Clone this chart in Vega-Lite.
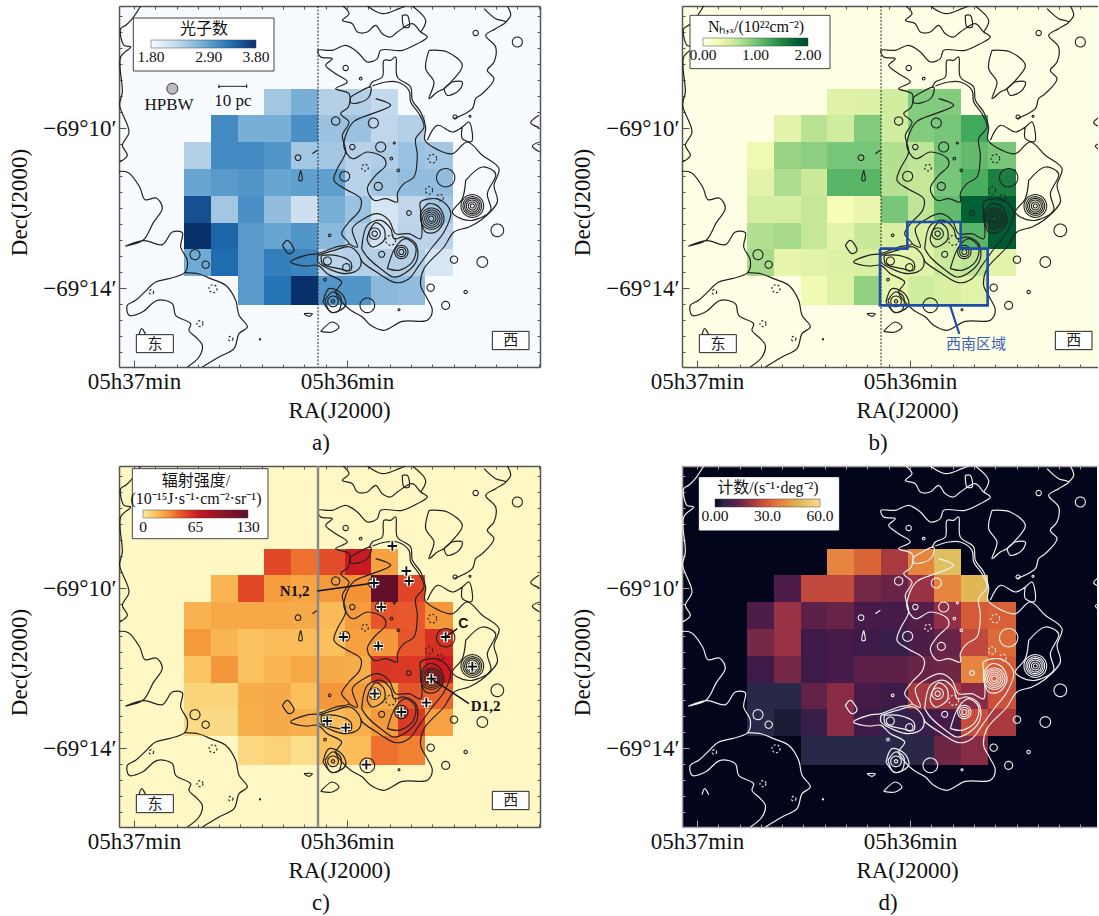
{"$schema":"https://vega.github.io/schema/vega-lite/v6.json","background":"white","autosize":{"type":"pad"},"padding":{"left":8,"top":4,"right":0,"bottom":0},
"config":{"view":{"stroke":null},"font":"Liberation Serif, Noto Sans CJK SC","axis":{"grid":false,"domainColor":"#555","tickColor":"#555","domainWidth":1.5,"tickWidth":1,"labelFont":"Liberation Serif","labelFontSize":23,"labelColor":"#111","labelOverlap":false,"labelBound":false,"labelFlush":false,"labelPadding":10,"titleFont":"Liberation Serif","titleFontSize":23,"titleFontWeight":"normal","titleColor":"#111"},"legend":{"orient":"none","direction":"horizontal","gradientLength":105,"gradientThickness":8,"gradientStrokeColor":"#444","gradientStrokeWidth":0.5,"labelFont":"Liberation Serif","labelFontSize":15.5,"labelColor":"#111","labelOverlap":false,"titleFont":"Liberation Serif, Noto Sans CJK SC","titleFontSize":16,"titleFontWeight":"normal","titleColor":"#111","titleAnchor":"middle","titlePadding":3,"padding":0,"zindex":1}},
"datasets":{
"cells":[
{"x":435,"x2":516,"y":271,"y2":349,"a":2.5,"b":0.45,"c":52,"d":38},{"x":516,"x2":597,"y":271,"y2":349,"a":2.75,"b":0.48,"c":40,"d":32},{"x":597,"x2":678,"y":271,"y2":349,"a":2.4,"b":0.55,"c":50,"d":22},{"x":678,"x2":756,"y":271,"y2":349,"a":2.4,"b":0.95,"c":68,"d":38},{"x":756,"x2":837,"y":271,"y2":349,"a":2.3,"b":0.95,"c":28,"d":50},
{"x":276,"x2":357,"y":349,"y2":430,"a":3.1,"b":0.42,"c":20,"d":10},{"x":357,"x2":435,"y":349,"y2":430,"a":2.75,"b":0.68,"c":52,"d":26},{"x":435,"x2":516,"y":349,"y2":430,"a":2.75,"b":0.55,"c":29,"d":26},{"x":516,"x2":597,"y":349,"y2":430,"a":3.05,"b":0.95,"c":26,"d":16},{"x":597,"x2":678,"y":349,"y2":430,"a":2.55,"b":0.55,"c":30,"d":14},{"x":678,"x2":756,"y":349,"y2":430,"a":2.55,"b":0.95,"c":32,"d":20},{"x":756,"x2":837,"y":349,"y2":430,"a":2.32,"b":1.0,"c":125,"d":38},{"x":837,"x2":918,"y":349,"y2":430,"a":2.4,"b":1.25,"c":53,"d":48},
{"x":195,"x2":276,"y":430,"y2":511,"a":2.4,"b":0.32,"c":21,"d":10},{"x":276,"x2":357,"y":430,"y2":511,"a":3.1,"b":0.85,"c":25,"d":20},{"x":357,"x2":435,"y":430,"y2":511,"a":3.1,"b":0.9,"c":25,"d":12},{"x":435,"x2":516,"y":430,"y2":511,"a":3.0,"b":1.0,"c":25,"d":14},{"x":516,"x2":597,"y":430,"y2":511,"a":2.5,"b":1.0,"c":24,"d":9},{"x":597,"x2":678,"y":430,"y2":511,"a":2.5,"b":0.72,"c":18,"d":9},{"x":678,"x2":756,"y":430,"y2":511,"a":2.38,"b":0.65,"c":29,"d":11},{"x":756,"x2":837,"y":430,"y2":511,"a":2.42,"b":1.02,"c":47,"d":19},{"x":837,"x2":918,"y":430,"y2":511,"a":2.55,"b":1.1,"c":46,"d":30},{"x":918,"x2":1002,"y":430,"y2":511,"a":2.5,"b":1.0,"c":31,"d":31},
{"x":195,"x2":276,"y":511,"y2":592,"a":2.85,"b":0.42,"c":30,"d":16},{"x":276,"x2":357,"y":511,"y2":592,"a":2.95,"b":0.75,"c":20,"d":20},{"x":357,"x2":435,"y":511,"y2":592,"a":3.0,"b":0.58,"c":15,"d":8},{"x":435,"x2":516,"y":511,"y2":592,"a":2.85,"b":1.15,"c":17,"d":9},{"x":516,"x2":597,"y":511,"y2":592,"a":2.9,"b":1.15,"c":17,"d":8},{"x":597,"x2":678,"y":511,"y2":592,"a":2.9,"b":0.7,"c":16,"d":7},{"x":678,"x2":756,"y":511,"y2":592,"a":2.37,"b":0.62,"c":28,"d":10},{"x":756,"x2":837,"y":511,"y2":592,"a":2.5,"b":1.0,"c":31,"d":14},{"x":837,"x2":918,"y":511,"y2":592,"a":2.6,"b":1.22,"c":47,"d":26},{"x":918,"x2":1002,"y":511,"y2":592,"a":2.6,"b":1.55,"c":60,"d":33},
{"x":195,"x2":276,"y":592,"y2":673,"a":3.55,"b":0.52,"c":14,"d":8},{"x":276,"x2":357,"y":592,"y2":673,"a":2.5,"b":0.52,"c":31,"d":16},{"x":357,"x2":435,"y":592,"y2":673,"a":3.05,"b":0.62,"c":15,"d":8},{"x":435,"x2":516,"y":592,"y2":673,"a":2.6,"b":0.25,"c":20,"d":9},{"x":516,"x2":597,"y":592,"y2":673,"a":2.2,"b":0.35,"c":25,"d":12},{"x":597,"x2":678,"y":592,"y2":673,"a":2.75,"b":1.0,"c":24,"d":12},{"x":678,"x2":756,"y":592,"y2":673,"a":2.55,"b":0.65,"c":23,"d":14},{"x":756,"x2":837,"y":592,"y2":673,"a":2.12,"b":1.1,"c":58,"d":15},{"x":837,"x2":918,"y":592,"y2":673,"a":2.32,"b":1.8,"c":57,"d":38},{"x":918,"x2":1002,"y":592,"y2":673,"a":2.5,"b":1.85,"c":65,"d":30},
{"x":195,"x2":276,"y":673,"y2":751,"a":3.8,"b":0.72,"c":8,"d":4},{"x":276,"x2":357,"y":673,"y2":751,"a":3.4,"b":0.78,"c":8,"d":4},{"x":357,"x2":435,"y":673,"y2":751,"a":2.95,"b":0.62,"c":23,"d":13},{"x":435,"x2":516,"y":673,"y2":751,"a":2.85,"b":0.42,"c":24,"d":18},{"x":516,"x2":597,"y":673,"y2":751,"a":3.0,"b":0.6,"c":16,"d":9},{"x":597,"x2":678,"y":673,"y2":751,"a":2.65,"b":0.5,"c":31,"d":8},{"x":678,"x2":756,"y":673,"y2":751,"a":2.4,"b":0.5,"c":30,"d":22},{"x":756,"x2":837,"y":673,"y2":751,"a":2.15,"b":0.62,"c":23,"d":22},{"x":837,"x2":918,"y":673,"y2":751,"a":2.35,"b":1.15,"c":47,"d":18},{"x":918,"x2":1002,"y":673,"y2":751,"a":2.35,"b":1.85,"c":43,"d":28},
{"x":195,"x2":276,"y":751,"y2":832,"a":2.8,"b":0.78,"c":6,"d":4},{"x":276,"x2":357,"y":751,"y2":832,"a":3.35,"b":0.38,"c":6,"d":2.5},{"x":357,"x2":435,"y":751,"y2":832,"a":2.95,"b":0.44,"c":22,"d":7},{"x":435,"x2":516,"y":751,"y2":832,"a":3.2,"b":0.48,"c":24,"d":18},{"x":516,"x2":597,"y":751,"y2":832,"a":3.15,"b":0.5,"c":22,"d":8},{"x":597,"x2":678,"y":751,"y2":832,"a":2.35,"b":0.4,"c":17,"d":6},{"x":678,"x2":756,"y":751,"y2":832,"a":2.4,"b":0.44,"c":22,"d":7},{"x":756,"x2":837,"y":751,"y2":832,"a":2.4,"b":0.58,"c":30,"d":9},{"x":837,"x2":918,"y":751,"y2":832,"a":2.4,"b":0.65,"c":57,"d":27},{"x":918,"x2":1002,"y":751,"y2":832,"a":2.1,"b":0.42,"c":27,"d":22},
{"x":357,"x2":435,"y":832,"y2":919,"a":2.95,"b":0.3,"c":7,"d":4},{"x":435,"x2":516,"y":832,"y2":919,"a":3.28,"b":0.46,"c":9,"d":4},{"x":516,"x2":597,"y":832,"y2":919,"a":3.8,"b":0.88,"c":5,"d":4},{"x":597,"x2":678,"y":832,"y2":919,"a":3.0,"b":0.4,"c":15,"d":4},{"x":678,"x2":756,"y":832,"y2":919,"a":3.0,"b":0.55,"c":17,"d":4.5},{"x":756,"x2":837,"y":832,"y2":919,"a":2.65,"b":0.5,"c":40,"d":15},{"x":837,"x2":918,"y":832,"y2":919,"a":2.6,"b":0.44,"c":36,"d":18}],
"lines":[
{"c":1,"x":0,"y":518},{"c":1,"x":28,"y":522},{"c":1,"x":62,"y":565},{"c":1,"x":78,"y":603},{"c":1,"x":112,"y":598},{"c":1,"x":130,"y":628},{"c":1,"x":103,"y":672},{"c":1,"x":72,"y":725},{"c":1,"x":20,"y":742},{"c":1,"x":75,"y":726},{"c":1,"x":130,"y":738},{"c":1,"x":160,"y":700},{"c":1,"x":190,"y":702},{"c":1,"x":185,"y":745},{"c":1,"x":205,"y":785},{"c":1,"x":197,"y":822},{"c":1,"x":150,"y":840},{"c":1,"x":110,"y":850},{"c":1,"x":72,"y":885},{"c":1,"x":50,"y":905},{"c":1,"x":25,"y":920},{"c":1,"x":30,"y":950},{"c":1,"x":70,"y":940},{"c":1,"x":115,"y":905},{"c":1,"x":160,"y":915},{"c":1,"x":170,"y":950},{"c":1,"x":215,"y":975},{"c":1,"x":210,"y":995},{"c":1,"x":235,"y":1020},{"c":1,"x":250,"y":1040},{"c":1,"x":240,"y":1075},{"c":1,"x":205,"y":1105},
{"c":2,"x":197,"y":822},{"c":2,"x":240,"y":826},{"c":2,"x":275,"y":840},{"c":2,"x":320,"y":860},{"c":2,"x":350,"y":905},{"c":2,"x":360,"y":950},{"c":2,"x":385,"y":985},{"c":2,"x":360,"y":1005},{"c":2,"x":345,"y":1050},{"c":2,"x":300,"y":1075},{"c":2,"x":250,"y":1105},
{"c":3,"x":65,"y":22},{"c":3,"x":40,"y":60},{"c":3,"x":20,"y":80},{"c":3,"x":5,"y":90},{"c":3,"x":15,"y":140},{"c":3,"x":35,"y":145},{"c":3,"x":5,"y":175},{"c":3,"x":10,"y":280},{"c":3,"x":2,"y":320},{"c":3,"x":30,"y":400},{"c":3,"x":10,"y":440},{"c":3,"x":25,"y":470},{"c":3,"x":2,"y":490},
{"c":4,"x":672,"y":22},{"c":4,"x":690,"y":45},{"c":4,"x":670,"y":65},{"c":4,"x":700,"y":75},{"c":4,"x":715,"y":100},{"c":4,"x":745,"y":100},{"c":4,"x":770,"y":80},{"c":4,"x":790,"y":105},{"c":4,"x":815,"y":115},{"c":4,"x":835,"y":100},{"c":4,"x":880,"y":75},{"c":4,"x":905,"y":100},{"c":4,"x":925,"y":115},{"c":4,"x":895,"y":135},{"c":4,"x":850,"y":155},{"c":4,"x":785,"y":155},{"c":4,"x":775,"y":180},{"c":4,"x":745,"y":190},{"c":4,"x":715,"y":160},{"c":4,"x":680,"y":140},{"c":4,"x":640,"y":155},{"c":4,"x":597,"y":155},{"c":4,"x":605,"y":175},{"c":4,"x":640,"y":180},{"c":4,"x":620,"y":200},{"c":4,"x":650,"y":225},{"c":4,"x":685,"y":250},{"c":4,"x":650,"y":270},{"c":4,"x":690,"y":285},{"c":4,"x":688,"y":325},{"c":4,"x":665,"y":345},{"c":4,"x":690,"y":370},{"c":4,"x":670,"y":410},{"c":4,"x":680,"y":460},{"c":4,"x":655,"y":510},{"c":4,"x":645,"y":545},{"c":4,"x":680,"y":572},{"c":4,"x":725,"y":600},{"c":4,"x":722,"y":635},{"c":4,"x":690,"y":670},{"c":4,"x":668,"y":705},{"c":4,"x":690,"y":735},{"c":4,"x":650,"y":745},{"c":4,"x":597,"y":765},{"c":4,"x":560,"y":770},{"c":4,"x":515,"y":790},{"c":4,"x":560,"y":802},{"c":4,"x":597,"y":800},{"c":4,"x":625,"y":825},{"c":4,"x":668,"y":850},{"c":4,"x":650,"y":880},{"c":4,"x":665,"y":905},{"c":4,"x":695,"y":935},{"c":4,"x":730,"y":955},{"c":4,"x":755,"y":980},{"c":4,"x":795,"y":995},{"c":4,"x":850,"y":968},{"c":4,"x":925,"y":965},{"c":4,"x":940,"y":935},{"c":4,"x":925,"y":900},{"c":4,"x":905,"y":860},{"c":4,"x":915,"y":810},{"c":4,"x":975,"y":745},{"c":4,"x":1005,"y":700},{"c":4,"x":1050,"y":685},{"c":4,"x":1085,"y":665},{"c":4,"x":1135,"y":610},{"c":4,"x":1125,"y":560},{"c":4,"x":1140,"y":510},{"c":4,"x":1090,"y":470},{"c":4,"x":1045,"y":430},{"c":4,"x":1000,"y":465},{"c":4,"x":960,"y":455},{"c":4,"x":918,"y":425},{"c":4,"x":920,"y":385},{"c":4,"x":905,"y":340},{"c":4,"x":880,"y":305},{"c":4,"x":875,"y":265},{"c":4,"x":835,"y":235},{"c":4,"x":830,"y":175},{"c":4,"x":815,"y":185},{"c":4,"x":795,"y":185},{"c":4,"x":790,"y":235},{"c":4,"x":760,"y":250},{"c":4,"x":750,"y":268},
{"c":5,"x":745,"y":22},{"c":5,"x":790,"y":45},{"c":5,"x":840,"y":30},{"c":5,"x":860,"y":22},
{"c":6,"x":850,"y":50},{"c":6,"x":865,"y":50},{"c":6,"x":870,"y":85},{"c":6,"x":855,"y":85},{"c":6,"x":850,"y":50},
{"c":7,"x":880,"y":22},{"c":7,"x":920,"y":65},{"c":7,"x":905,"y":100},
{"c":8,"x":760,"y":262},{"c":8,"x":800,"y":250},{"c":8,"x":835,"y":250},{"c":8,"x":870,"y":275},{"c":8,"x":875,"y":310},{"c":8,"x":900,"y":345},{"c":8,"x":915,"y":385},{"c":8,"x":890,"y":420},{"c":8,"x":895,"y":470},{"c":8,"x":885,"y":535},{"c":8,"x":855,"y":555},{"c":8,"x":835,"y":585},{"c":8,"x":835,"y":610},{"c":8,"x":800,"y":600},{"c":8,"x":765,"y":605},{"c":8,"x":745,"y":570},{"c":8,"x":770,"y":530},{"c":8,"x":800,"y":500},{"c":8,"x":795,"y":478},{"c":8,"x":745,"y":460},{"c":8,"x":700,"y":480},{"c":8,"x":675,"y":445},{"c":8,"x":682,"y":405},{"c":8,"x":705,"y":368},{"c":8,"x":760,"y":345},{"c":8,"x":815,"y":320},{"c":8,"x":770,"y":300},
{"c":9,"x":695,"y":295},{"c":9,"x":720,"y":280},{"c":9,"x":755,"y":265},{"c":9,"x":750,"y":295},{"c":9,"x":720,"y":312},{"c":9,"x":695,"y":312},{"c":9,"x":695,"y":295},
{"c":10,"x":930,"y":155},{"c":10,"x":985,"y":160},{"c":10,"x":1030,"y":200},{"c":10,"x":1005,"y":240},{"c":10,"x":975,"y":270},{"c":10,"x":955,"y":280},{"c":10,"x":930,"y":300},{"c":10,"x":945,"y":250},{"c":10,"x":920,"y":210},{"c":10,"x":930,"y":155},
{"c":11,"x":975,"y":270},{"c":11,"x":1000,"y":250},{"c":11,"x":1030,"y":250},{"c":11,"x":1020,"y":275},{"c":11,"x":985,"y":290},{"c":11,"x":975,"y":270},
{"c":12,"x":1095,"y":30},{"c":12,"x":1130,"y":60},{"c":12,"x":1160,"y":70},{"c":12,"x":1130,"y":90},{"c":12,"x":1100,"y":110},{"c":12,"x":1130,"y":145},{"c":12,"x":1125,"y":190},{"c":12,"x":1105,"y":215},{"c":12,"x":1125,"y":240},{"c":12,"x":1090,"y":285},{"c":12,"x":1070,"y":300},{"c":12,"x":1060,"y":330},{"c":12,"x":1005,"y":360},
{"c":13,"x":1165,"y":22},{"c":13,"x":1175,"y":50},{"c":13,"x":1160,"y":70},
{"c":14,"x":1260,"y":350},{"c":14,"x":1235,"y":372},{"c":14,"x":1260,"y":387},
{"c":15,"x":1262,"y":430},{"c":15,"x":1240,"y":442},{"c":15,"x":1262,"y":460},
{"c":16,"x":925,"y":425},{"c":16,"x":955,"y":380},{"c":16,"x":1000,"y":400},{"c":16,"x":1030,"y":385},{"c":16,"x":1050,"y":370},{"c":16,"x":1058,"y":428},{"c":16,"x":1030,"y":420},{"c":16,"x":1030,"y":385},
{"c":17,"x":1040,"y":545},{"c":17,"x":1090,"y":505},{"c":17,"x":1130,"y":525},{"c":17,"x":1105,"y":585},{"c":17,"x":1115,"y":635},{"c":17,"x":1060,"y":665},{"c":17,"x":1015,"y":655},{"c":17,"x":1000,"y":640},{"c":17,"x":1030,"y":600},{"c":17,"x":1040,"y":545},
{"c":18,"x":597,"y":770},{"c":18,"x":645,"y":755},{"c":18,"x":695,"y":745},{"c":18,"x":725,"y":780},{"c":18,"x":720,"y":810},{"c":18,"x":680,"y":825},{"c":18,"x":640,"y":815},{"c":18,"x":597,"y":790},{"c":18,"x":597,"y":770},
{"c":19,"x":607,"y":770},{"c":19,"x":650,"y":770},{"c":19,"x":695,"y":790},{"c":19,"x":695,"y":815},{"c":19,"x":660,"y":810},{"c":19,"x":610,"y":795},{"c":19,"x":607,"y":770},
{"c":20,"x":690,"y":735},{"c":20,"x":715,"y":745},{"c":20,"x":700,"y":690},{"c":20,"x":735,"y":660},{"c":20,"x":775,"y":645},{"c":20,"x":810,"y":665},{"c":20,"x":830,"y":705},{"c":20,"x":870,"y":705},{"c":20,"x":905,"y":720},{"c":20,"x":905,"y":640},{"c":20,"x":905,"y":610},{"c":20,"x":960,"y":602},{"c":20,"x":995,"y":640},{"c":20,"x":975,"y":700},{"c":20,"x":940,"y":745},{"c":20,"x":900,"y":800},{"c":20,"x":870,"y":840},{"c":20,"x":830,"y":852},{"c":20,"x":780,"y":825},{"c":20,"x":730,"y":790},{"c":20,"x":725,"y":780},
{"c":21,"x":728,"y":750},{"c":21,"x":745,"y":680},{"c":21,"x":785,"y":665},{"c":21,"x":815,"y":690},{"c":21,"x":825,"y":720},{"c":21,"x":855,"y":715},{"c":21,"x":890,"y":735},{"c":21,"x":895,"y":780},{"c":21,"x":870,"y":815},{"c":21,"x":825,"y":835},{"c":21,"x":785,"y":810},{"c":21,"x":745,"y":775},{"c":21,"x":728,"y":750},
{"c":22,"x":805,"y":810},{"c":22,"x":830,"y":745},{"c":22,"x":860,"y":720},{"c":22,"x":890,"y":745},{"c":22,"x":880,"y":790},{"c":22,"x":840,"y":815},{"c":22,"x":805,"y":810},
{"c":23,"x":750,"y":700},{"c":23,"x":770,"y":672},{"c":23,"x":795,"y":690},{"c":23,"x":795,"y":725},{"c":23,"x":760,"y":745},{"c":23,"x":745,"y":725},{"c":23,"x":750,"y":700},
{"c":24,"x":905,"y":640},{"c":24,"x":930,"y":615},{"c":24,"x":960,"y":625},{"c":24,"x":975,"y":665},{"c":24,"x":950,"y":700},{"c":24,"x":920,"y":700},{"c":24,"x":905,"y":660},{"c":24,"x":905,"y":640},
{"c":25,"x":618,"y":905},{"c":25,"x":640,"y":880},{"c":25,"x":665,"y":895},{"c":25,"x":660,"y":935},{"c":25,"x":635,"y":940},{"c":25,"x":618,"y":905},
{"c":26,"x":605,"y":998},{"c":26,"x":640,"y":970},{"c":26,"x":660,"y":985},{"c":26,"x":640,"y":1000},{"c":26,"x":605,"y":998},
{"c":27,"x":555,"y":945},{"c":27,"x":580,"y":945},{"c":27,"x":570,"y":953},{"c":27,"x":555,"y":945},
{"c":28,"x":490,"y":740},{"c":28,"x":505,"y":725},{"c":28,"x":525,"y":755},{"c":28,"x":510,"y":765},{"c":28,"x":490,"y":740},
{"c":29,"x":545,"y":515},{"c":29,"x":549,"y":545},{"c":29,"x":540,"y":545},{"c":29,"x":545,"y":515},
{"c":30,"x":580,"y":465},{"c":30,"x":595,"y":455},
{"c":31,"x":60,"y":1008},{"c":31,"x":68,"y":990},{"c":31,"x":80,"y":1008},
{"c":32,"x":612,"y":910},{"c":32,"x":630,"y":870},{"c":32,"x":668,"y":885},{"c":32,"x":680,"y":920},{"c":32,"x":640,"y":942},{"c":32,"x":612,"y":910}],
"rings":[
{"x":1060,"y":622,"d":12,"k":"s"},{"x":1060,"y":622,"d":24,"k":"s"},{"x":1060,"y":622,"d":36,"k":"s"},{"x":1060,"y":622,"d":46,"k":"s"},{"x":1060,"y":622,"d":56,"k":"s"},{"x":1060,"y":622,"d":68,"k":"s"},
{"x":937,"y":660,"d":16,"k":"s"},{"x":937,"y":660,"d":28,"k":"s"},{"x":937,"y":660,"d":40,"k":"s"},{"x":937,"y":660,"d":52,"k":"s"},{"x":937,"y":660,"d":64,"k":"s"},
{"x":847,"y":760,"d":15,"k":"s"},{"x":847,"y":760,"d":28,"k":"s"},{"x":847,"y":760,"d":40,"k":"s"},
{"x":767,"y":705,"d":16,"k":"s"},{"x":767,"y":705,"d":34,"k":"s"},{"x":642,"y":908,"d":10,"k":"s"},{"x":642,"y":908,"d":32,"k":"s"},{"x":625,"y":787,"d":24,"k":"s"},{"x":682,"y":806,"d":22,"k":"s"},
{"x":537,"y":477,"d":17,"k":"s"},{"x":650,"y":367,"d":25,"k":"s"},{"x":763,"y":373,"d":30,"k":"s"},{"x":700,"y":445,"d":16,"k":"s"},{"x":785,"y":445,"d":30,"k":"s"},{"x":677,"y":533,"d":30,"k":"s"},{"x":778,"y":563,"d":24,"k":"s"},{"x":980,"y":537,"d":55,"k":"s"},{"x":1005,"y":783,"d":22,"k":"s"},{"x":1090,"y":790,"d":32,"k":"s"},{"x":1135,"y":695,"d":38,"k":"s"},{"x":935,"y":867,"d":22,"k":"s"},{"x":980,"y":920,"d":24,"k":"s"},{"x":1040,"y":880,"d":10,"k":"s"},{"x":1070,"y":103,"d":16,"k":"s"},{"x":1195,"y":130,"d":30,"k":"s"},{"x":745,"y":920,"d":44,"k":"s"},{"x":228,"y":768,"d":30,"k":"s"},{"x":260,"y":798,"d":22,"k":"s"},{"x":870,"y":643,"d":14,"k":"s"},{"x":788,"y":767,"d":18,"k":"s"},{"x":817,"y":480,"d":8,"k":"s"},{"x":632,"y":710,"d":8,"k":"s"},{"x":838,"y":515,"d":8,"k":"s"},{"x":618,"y":843,"d":8,"k":"s"},{"x":840,"y":933,"d":6,"k":"s"},{"x":423,"y":1022,"d":4,"k":"s"},{"x":826,"y":433,"d":6,"k":"s"},{"x":725,"y":240,"d":8,"k":"s"},{"x":1053,"y":353,"d":6,"k":"s"},{"x":1008,"y":355,"d":12,"k":"s"},{"x":680,"y":208,"d":16,"k":"s"},
{"x":940,"y":480,"d":26,"k":"d"},{"x":738,"y":507,"d":20,"k":"d"},{"x":930,"y":575,"d":22,"k":"d"},{"x":963,"y":597,"d":20,"k":"d"},{"x":815,"y":725,"d":30,"k":"d"},{"x":282,"y":870,"d":24,"k":"d"},{"x":97,"y":880,"d":14,"k":"d"},{"x":243,"y":975,"d":18,"k":"d"},{"x":335,"y":1020,"d":14,"k":"d"}],
"centre":[{"x":597,"y":22},{"x":597,"y":1105}],
"dirs":[{"x":52,"x2":163,"y":1008,"y2":1062,"xc":108,"yc":1035,"t":"东"},{"x":1120,"x2":1230,"y":998,"y2":1053,"xc":1175,"yc":1025,"t":"西"}],
"stars":[{"x":820,"y":262},{"x":862,"y":337},{"x":870,"y":367},{"x":765,"y":373},{"x":787,"y":445},{"x":673,"y":535},{"x":778,"y":562},{"x":980,"y":535},{"x":1060,"y":624},{"x":937,"y":660},{"x":767,"y":705},{"x":922,"y":732},{"x":847,"y":760},{"x":625,"y":787},{"x":680,"y":807},{"x":742,"y":918}]
},
"concat":[
{"width":421,"height":361,"view":{"fill":"#f7fbff","stroke":null},
"encoding":{"x":{"field":"x","type":"quantitative","scale":{"domain":[0,1263],"nice":false,"zero":false},"axis":null},"y":{"field":"y","type":"quantitative","scale":{"domain":[1105,22],"nice":false,"zero":false},"axis":null}},
"layer":[
{"data":{"name":"cells"},"mark":"rect","encoding":{"x":{"field":"x","type":"quantitative","scale":{"domain":[0,1263],"nice":false,"zero":false},"axis":{"orient":"bottom","values":[45,109,173,237,301,364,428,492,556,620,684,748,812,876,940,1004,1068,1131,1195,1259],"labelExpr":"datum.value==45?'05h37min':datum.value==684?'05h36min':''","tickSize":{"condition":{"test":"datum.value==45||datum.value==684","value":-7},"value":-3},"title":"RA(J2000)","titleX":220,"titleY":50,"titleBaseline":"alphabetic"}},"x2":{"field":"x2"},"y":{"field":"y","type":"quantitative","scale":{"domain":[1105,22],"nice":false,"zero":false},"axis":{"orient":"left","values":[52,100,148,196,244,292,340,388,436,484,532,580,628,676,724,772,820,868,916,964,1012,1060],"labelExpr":"datum.value==388?'−69°10′':datum.value==868?'−69°14′':''","tickSize":{"condition":{"test":"datum.value==388||datum.value==868","value":-7},"value":-3},"title":"Dec(J2000)","titleX":-88,"titleY":196}},"y2":{"field":"y2"},
"color":{"field":"a","type":"quantitative","scale":{"domain":[1.8,2.3,2.8,3.3,3.8],"range":["#f7fbff","#c3d9ec","#6fabd4","#2273b5","#08306b"]},"legend":{"legendX":32,"legendY":15,"title":"光子数","values":[1.8,2.9,3.8],"format":".2f","encode":{"labels":{"update":{"align":{"value":"center"}}}}}}}},
{"data":{"name":"lines"},"mark":{"type":"line","interpolate":"catmull-rom","stroke":"#222","strokeWidth":1.2,"clip":true},"encoding":{"x":{"field":"x","type":"quantitative","scale":{"domain":[0,1263],"nice":false,"zero":false},"axis":{"orient":"top","values":[45,109,173,237,301,364,428,492,556,620,684,748,812,876,940,1004,1068,1131,1195,1259],"labels":false,"title":null,"tickSize":-3}},"y":{"field":"y","type":"quantitative","scale":{"domain":[1105,22],"nice":false,"zero":false},"axis":{"orient":"right","values":[52,100,148,196,244,292,340,388,436,484,532,580,628,676,724,772,820,868,916,964,1012,1060],"labels":false,"title":null,"tickSize":-3}},"detail":{"field":"c"},"order":{"value":null}}},
{"data":{"name":"rings"},"mark":{"type":"point","filled":false,"stroke":"#222","strokeWidth":1.1,"opacity":1},"encoding":{"size":{"field":"d","type":"quantitative","scale":{"type":"pow","exponent":2,"domain":[0,100],"range":[0,1111]},"legend":null},"strokeDash":{"field":"k","type":"nominal","scale":{"domain":["s","d"],"range":[[1,0],[2,2]]},"legend":null}}},
{"data":{"name":"centre"},"mark":{"type":"line","stroke":"#222","strokeWidth":1,"strokeDash":[2,1.5]},"encoding":{"order":{"value":null}}},
{"data":{"values":[{"x":160,"y":270}]},"mark":{"type":"point","filled":true,"fill":"#bdbdbd","stroke":"#333","strokeWidth":1,"opacity":1,"size":120}},
{"data":{"values":[{"x":300,"y":258},{"x":300,"y":268},{"x":300,"y":263},{"x":383,"y":263},{"x":383,"y":258},{"x":383,"y":268}]},"mark":{"type":"line","stroke":"#222","strokeWidth":1},"encoding":{"order":{"value":null}}},
{"data":{"values":[{"x":150,"y":320,"t":"HPBW"},{"x":342,"y":306,"t":"10 pc"}]},"mark":{"type":"text","font":"Liberation Serif","fontSize":17,"fill":"#111"},"encoding":{"text":{"field":"t"}}},
{"data":{"values":[{"x":606,"y":1333,"t":"a)"}]},"mark":{"type":"text","font":"Liberation Serif","fontSize":23,"fill":"#111"},"encoding":{"text":{"field":"t"}}},
{"data":{"values":[{"x":43,"x2":465,"y":58,"y2":217}]},"mark":{"type":"rect","fill":"white","stroke":"#444","strokeWidth":1},"encoding":{"x2":{"field":"x2"},"y2":{"field":"y2"}}},
{"data":{"name":"dirs"},"mark":{"type":"rect","fill":"white","stroke":"#222","strokeWidth":1},"encoding":{"x2":{"field":"x2"},"y2":{"field":"y2"}}},
{"data":{"name":"dirs"},"mark":{"type":"text","font":"Noto Sans CJK SC","fontSize":15,"fill":"#222"},"encoding":{"x":{"field":"xc","type":"quantitative","axis":null},"y":{"field":"yc","type":"quantitative","axis":null},"text":{"field":"t"}}}
],"resolve":{"axis":{"x":"independent","y":"independent"}}},
{"width":416,"height":361,"view":{"fill":"#ffffe5","stroke":null},
"encoding":{"x":{"field":"x","type":"quantitative","scale":{"domain":[0,1248],"nice":false,"zero":false},"axis":null},"y":{"field":"y","type":"quantitative","scale":{"domain":[1105,22],"nice":false,"zero":false},"axis":null}},
"layer":[
{"data":{"name":"cells"},"mark":"rect","encoding":{"x":{"field":"x","type":"quantitative","scale":{"domain":[0,1248],"nice":false,"zero":false},"axis":{"orient":"bottom","values":[45,109,173,237,301,364,428,492,556,620,684,748,812,876,940,1004,1068,1131,1195],"labelExpr":"datum.value==45?'05h37min':datum.value==684?'05h36min':''","tickSize":{"condition":{"test":"datum.value==45||datum.value==684","value":-7},"value":-3},"title":"RA(J2000)","titleX":225,"titleY":50,"titleBaseline":"alphabetic"}},"x2":{"field":"x2"},"y":{"field":"y","type":"quantitative","scale":{"domain":[1105,22],"nice":false,"zero":false},"axis":{"orient":"left","values":[52,100,148,196,244,292,340,388,436,484,532,580,628,676,724,772,820,868,916,964,1012,1060],"labelExpr":"datum.value==388?'−69°10′':datum.value==868?'−69°14′':''","tickSize":{"condition":{"test":"datum.value==388||datum.value==868","value":-7},"value":-3},"title":"Dec(J2000)","titleX":-88,"titleY":196}},"y2":{"field":"y2"},
"color":{"field":"b","type":"quantitative","scale":{"domain":[0,0.25,0.5,0.75,1,1.25,1.5,1.75,2],"range":["#ffffe5","#f7fcb9","#d9f0a3","#addd8e","#78c679","#41ab5d","#238443","#006837","#004529"]},"legend":{"legendX":21,"legendY":13,"title":"Nₕ,ₓ/(10²²cm⁻²)","values":[0,1,2],"format":".2f","encode":{"labels":{"update":{"align":{"value":"center"}}}}}}}},
{"data":{"name":"lines"},"mark":{"type":"line","interpolate":"catmull-rom","stroke":"#222","strokeWidth":1.2,"clip":true},"encoding":{"x":{"field":"x","type":"quantitative","scale":{"domain":[0,1248],"nice":false,"zero":false},"axis":{"orient":"top","values":[45,109,173,237,301,364,428,492,556,620,684,748,812,876,940,1004,1068,1131,1195],"labels":false,"title":null,"tickSize":-3}},"detail":{"field":"c"},"order":{"value":null}}},
{"data":{"name":"rings"},"mark":{"type":"point","filled":false,"stroke":"#222","strokeWidth":1.1,"opacity":1},"encoding":{"size":{"field":"d","type":"quantitative","scale":{"type":"pow","exponent":2,"domain":[0,100],"range":[0,1111]},"legend":null},"strokeDash":{"field":"k","type":"nominal","scale":{"domain":["s","d"],"range":[[1,0],[2,2]]},"legend":null}}},
{"data":{"name":"centre"},"mark":{"type":"line","stroke":"#222","strokeWidth":1,"strokeDash":[2,1.5]},"encoding":{"order":{"value":null}}},
{"data":{"values":[{"x":594,"y":750},{"x":676,"y":750},{"x":676,"y":670},{"x":836,"y":670},{"x":836,"y":750},{"x":917,"y":750},{"x":917,"y":920},{"x":594,"y":920},{"x":594,"y":750}]},"mark":{"type":"line","stroke":"#1f4ea8","strokeWidth":2.6},"encoding":{"order":{"value":null}}},
{"data":{"values":[{"x":804,"y":920},{"x":832,"y":1006}]},"mark":{"type":"line","stroke":"#1f4ea8","strokeWidth":2.2},"encoding":{"order":{"value":null}}},
{"data":{"values":[{"x":882,"y":1035,"t":"西南区域"}]},"mark":{"type":"text","font":"Noto Sans CJK SC","fontSize":15,"fill":"#3b62b5"},"encoding":{"text":{"field":"t"}}},
{"data":{"values":[{"x":588,"y":1333,"t":"b)"}]},"mark":{"type":"text","font":"Liberation Serif","fontSize":23,"fill":"#111"},"encoding":{"text":{"field":"t"}}},
{"data":{"values":[{"x":24,"x2":444,"y":50,"y2":210}]},"mark":{"type":"rect","fill":"white","stroke":"#444","strokeWidth":1},"encoding":{"x2":{"field":"x2"},"y2":{"field":"y2"}}},
{"data":{"name":"dirs"},"mark":{"type":"rect","fill":"white","stroke":"#222","strokeWidth":1},"encoding":{"x2":{"field":"x2"},"y2":{"field":"y2"}}},
{"data":{"name":"dirs"},"mark":{"type":"text","font":"Noto Sans CJK SC","fontSize":15,"fill":"#222"},"encoding":{"x":{"field":"xc","type":"quantitative","axis":null},"y":{"field":"yc","type":"quantitative","axis":null},"text":{"field":"t"}}}
],"resolve":{"axis":{"x":"independent","y":"independent"}}},
{"width":421,"height":361,"view":{"fill":"#fff8c4","stroke":null},
"encoding":{"x":{"field":"x","type":"quantitative","scale":{"domain":[0,1263],"nice":false,"zero":false},"axis":null},"y":{"field":"y","type":"quantitative","scale":{"domain":[1105,22],"nice":false,"zero":false},"axis":null}},
"layer":[
{"data":{"name":"cells"},"mark":"rect","encoding":{"x":{"field":"x","type":"quantitative","scale":{"domain":[0,1263],"nice":false,"zero":false},"axis":{"orient":"bottom","values":[45,109,173,237,301,364,428,492,556,620,684,748,812,876,940,1004,1068,1131,1195,1259],"labelExpr":"datum.value==45?'05h37min':datum.value==684?'05h36min':''","tickSize":{"condition":{"test":"datum.value==45||datum.value==684","value":-7},"value":-3},"title":"RA(J2000)","titleX":220,"titleY":50,"titleBaseline":"alphabetic"}},"x2":{"field":"x2"},"y":{"field":"y","type":"quantitative","scale":{"domain":[1105,22],"nice":false,"zero":false},"axis":{"orient":"left","values":[52,100,148,196,244,292,340,388,436,484,532,580,628,676,724,772,820,868,916,964,1012,1060],"labelExpr":"datum.value==388?'−69°10′':datum.value==868?'−69°14′':''","tickSize":{"condition":{"test":"datum.value==388||datum.value==868","value":-7},"value":-3},"title":"Dec(J2000)","titleX":-88,"titleY":196}},"y2":{"field":"y2"},
"color":{"field":"c","type":"quantitative","scale":{"domain":[0,15,30,45,65,100,130],"range":["#fde9a0","#fbc25f","#f59a3c","#ea5a2d","#cf1b20","#8b1528","#5c0f28"]},"legend":{"legendX":12,"legendY":7,"title":["辐射强度/","(10⁻¹⁵J·s⁻¹·cm⁻²·sr⁻¹)"],"values":[0,65,130],"format":"d","encode":{"labels":{"update":{"align":{"value":"center"}}}}}}}},
{"data":{"name":"lines"},"mark":{"type":"line","interpolate":"catmull-rom","stroke":"#222","strokeWidth":1.2,"clip":true},"encoding":{"x":{"field":"x","type":"quantitative","scale":{"domain":[0,1263],"nice":false,"zero":false},"axis":{"orient":"top","values":[45,109,173,237,301,364,428,492,556,620,684,748,812,876,940,1004,1068,1131,1195,1259],"labels":false,"title":null,"tickSize":-3}},"y":{"field":"y","type":"quantitative","scale":{"domain":[1105,22],"nice":false,"zero":false},"axis":{"orient":"right","values":[52,100,148,196,244,292,340,388,436,484,532,580,628,676,724,772,820,868,916,964,1012,1060],"labels":false,"title":null,"tickSize":-3}},"detail":{"field":"c"},"order":{"value":null}}},
{"data":{"name":"rings"},"mark":{"type":"point","filled":false,"stroke":"#222","strokeWidth":1.1,"opacity":1},"encoding":{"size":{"field":"d","type":"quantitative","scale":{"type":"pow","exponent":2,"domain":[0,100],"range":[0,1111]},"legend":null},"strokeDash":{"field":"k","type":"nominal","scale":{"domain":["s","d"],"range":[[1,0],[2,2]]},"legend":null}}},
{"data":{"name":"centre"},"mark":{"type":"line","stroke":"#8a8a8a","strokeWidth":2.5},"encoding":{"order":{"value":null}}},
{"data":{"name":"stars"},"mark":{"type":"point","shape":"M-1,0H1M0,-1V1","size":110,"filled":false,"stroke":"white","strokeWidth":4.5,"opacity":1}},
{"data":{"name":"stars"},"mark":{"type":"point","shape":"M-1,0H1M0,-1V1","size":90,"filled":false,"stroke":"#111","strokeWidth":1.8,"opacity":1}},
{"data":{"values":[{"c":"n","x":595,"y":397},{"c":"n","x":765,"y":373},{"c":"k","x":1015,"y":510},{"c":"k","x":980,"y":535},{"c":"p","x":937,"y":660},{"c":"p","x":1050,"y":735}]},"mark":{"type":"line","stroke":"#111","strokeWidth":1.5},"encoding":{"detail":{"field":"c"},"order":{"value":null}}},
{"data":{"values":[{"x":527,"y":396,"t":"N1,2"},{"x":1100,"y":743,"t":"D1,2"}]},"mark":{"type":"text","font":"Liberation Serif","fontWeight":"bold","fontSize":15,"fill":"#111"},"encoding":{"text":{"field":"t"}}},
{"data":{"values":[{"x":1033,"y":495,"t":"C"}]},"mark":{"type":"text","font":"Liberation Sans","fontWeight":"bold","fontSize":14,"fill":"#111"},"encoding":{"text":{"field":"t"}}},
{"data":{"values":[{"x":606,"y":1333,"t":"c)"}]},"mark":{"type":"text","font":"Liberation Serif","fontSize":23,"fill":"#111"},"encoding":{"text":{"field":"t"}}},
{"data":{"values":[{"x":40,"x2":447,"y":30,"y2":240}]},"mark":{"type":"rect","fill":"white","stroke":"#444","strokeWidth":1},"encoding":{"x2":{"field":"x2"},"y2":{"field":"y2"}}},
{"data":{"name":"dirs"},"mark":{"type":"rect","fill":"white","stroke":"#222","strokeWidth":1},"encoding":{"x2":{"field":"x2"},"y2":{"field":"y2"}}},
{"data":{"name":"dirs"},"mark":{"type":"text","font":"Noto Sans CJK SC","fontSize":15,"fill":"#222"},"encoding":{"x":{"field":"xc","type":"quantitative","axis":null},"y":{"field":"yc","type":"quantitative","axis":null},"text":{"field":"t"}}}
],"resolve":{"axis":{"x":"independent","y":"independent"}}},
{"width":415,"height":361,"view":{"fill":"#03051a","stroke":null},
"encoding":{"x":{"field":"x","type":"quantitative","scale":{"domain":[0,1245],"nice":false,"zero":false},"axis":null},"y":{"field":"y","type":"quantitative","scale":{"domain":[1105,22],"nice":false,"zero":false},"axis":null}},
"layer":[
{"data":{"name":"cells"},"mark":"rect","encoding":{"x":{"field":"x","type":"quantitative","scale":{"domain":[0,1245],"nice":false,"zero":false},"axis":{"orient":"bottom","domainColor":"#aaa","tickColor":"#aaa","values":[45,109,173,237,301,364,428,492,556,620,684,748,812,876,940,1004,1068,1131,1195],"labelExpr":"datum.value==45?'05h37min':datum.value==684?'05h36min':''","tickSize":{"condition":{"test":"datum.value==45||datum.value==684","value":-7},"value":-3},"title":"RA(J2000)","titleX":225,"titleY":50,"titleBaseline":"alphabetic"}},"x2":{"field":"x2"},"y":{"field":"y","type":"quantitative","scale":{"domain":[1105,22],"nice":false,"zero":false},"axis":{"orient":"left","domainColor":"#aaa","tickColor":"#aaa","values":[52,100,148,196,244,292,340,388,436,484,532,580,628,676,724,772,820,868,916,964,1012,1060],"labelExpr":"datum.value==388?'−69°10′':datum.value==868?'−69°14′':''","tickSize":{"condition":{"test":"datum.value==388||datum.value==868","value":-7},"value":-3},"title":"Dec(J2000)","titleX":-88,"titleY":196}},"y2":{"field":"y2"},
"color":{"field":"d","type":"quantitative","scale":{"domain":[0,4,8,15,22,30,38,50,60],"range":["#03051a","#282848","#3e1a49","#6d2745","#a8393f","#d65a36","#e5853f","#e0c05e","#fbd88f"]},"legend":{"legendX":33,"legendY":14,"title":"计数/(s⁻¹·deg⁻²)","values":[0,30,60],"labelExpr":"datum.value==0?'0.00':format(datum.value,'.1f')","encode":{"labels":{"update":{"align":{"value":"center"}}}}}}}},
{"data":{"name":"lines"},"mark":{"type":"line","interpolate":"catmull-rom","stroke":"#eee","strokeWidth":1.2,"clip":true},"encoding":{"x":{"field":"x","type":"quantitative","scale":{"domain":[0,1245],"nice":false,"zero":false},"axis":{"orient":"top","domainColor":"#aaa","tickColor":"#aaa","values":[45,109,173,237,301,364,428,492,556,620,684,748,812,876,940,1004,1068,1131,1195],"labels":false,"title":null,"tickSize":-3}},"detail":{"field":"c"},"order":{"value":null}}},
{"data":{"name":"rings"},"mark":{"type":"point","filled":false,"stroke":"#eee","strokeWidth":1.1,"opacity":1},"encoding":{"size":{"field":"d","type":"quantitative","scale":{"type":"pow","exponent":2,"domain":[0,100],"range":[0,1111]},"legend":null},"strokeDash":{"field":"k","type":"nominal","scale":{"domain":["s","d"],"range":[[1,0],[2,2]]},"legend":null}}},
{"data":{"values":[{"x":618,"y":1333,"t":"d)"}]},"mark":{"type":"text","font":"Liberation Serif","fontSize":23,"fill":"#111"},"encoding":{"text":{"field":"t"}}},
{"data":{"values":[{"x":52,"x2":470,"y":57,"y2":214}]},"mark":{"type":"rect","fill":"white","stroke":"#fff","strokeWidth":1},"encoding":{"x2":{"field":"x2"},"y2":{"field":"y2"}}}
],"resolve":{"axis":{"x":"independent","y":"independent"}}}
],"columns":2,"spacing":{"row":99,"column":142},"bounds":"flush","resolve":{"scale":{"color":"independent"},"legend":{"color":"independent"}}}
